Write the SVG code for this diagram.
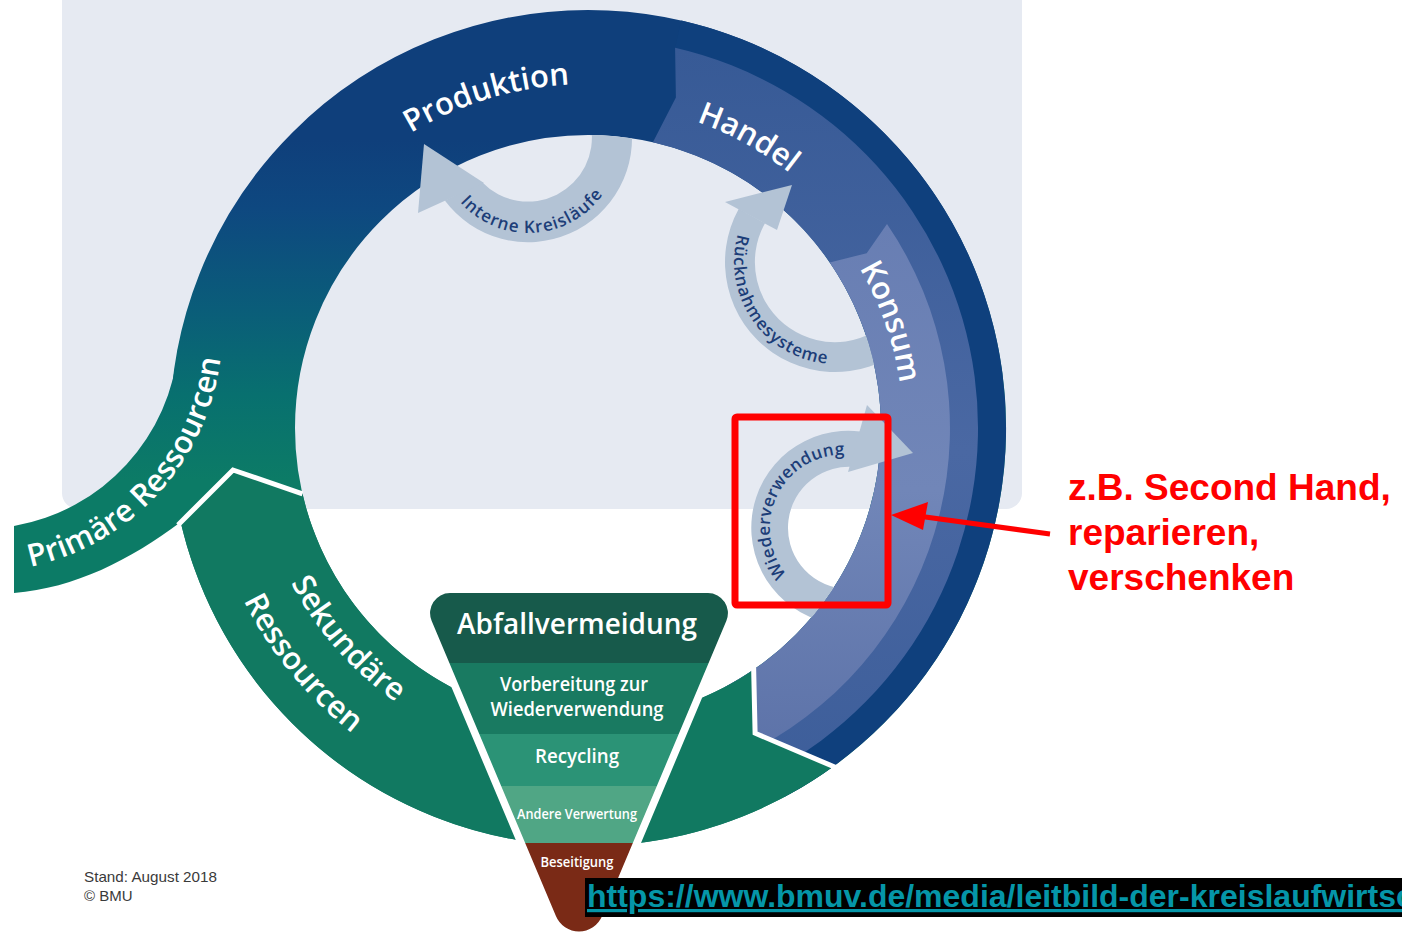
<svg xmlns="http://www.w3.org/2000/svg" width="1402" height="936" viewBox="0 0 1402 936">
<defs>
<style>
.lbl{font-family:"Open Sans","Noto Sans","DejaVu Sans",sans-serif;font-weight:600}
.ringlbl{fill:#ffffff;font-size:31px}
.innerlbl{fill:#1c3d78;font-size:17px}
.loop{fill:#b3c3d5}
.pyr{fill:#ffffff;text-anchor:middle}
.sep{fill:none;stroke:#ffffff;stroke-width:5;stroke-linejoin:miter}
.red{font-family:"Liberation Sans",Arial,sans-serif;font-weight:700;font-size:37px;fill:#ff0000}
.foot{font-family:"Liberation Sans",Arial,sans-serif;font-size:15px;fill:#3a3a3a}
</style>
<linearGradient id="gRing" gradientUnits="userSpaceOnUse" x1="0" y1="140" x2="0" y2="480">
<stop offset="0" stop-color="#0f3f7b"/>
<stop offset="0.2" stop-color="#0e4880"/>
<stop offset="0.5" stop-color="#0a5d79"/>
<stop offset="0.75" stop-color="#08706f"/>
<stop offset="1" stop-color="#0c7b66"/>
</linearGradient>
<linearGradient id="gHandel" gradientUnits="userSpaceOnUse" x1="0" y1="50" x2="0" y2="780">
<stop offset="0" stop-color="#375a96"/>
<stop offset="0.55" stop-color="#4a68a3"/>
<stop offset="1" stop-color="#3d5e9a"/>
</linearGradient>
<linearGradient id="gKonsum" gradientUnits="userSpaceOnUse" x1="0" y1="220" x2="0" y2="760">
<stop offset="0" stop-color="#687eb3"/>
<stop offset="0.5" stop-color="#7186b8"/>
<stop offset="1" stop-color="#5c72a8"/>
</linearGradient>
<clipPath id="hole"><circle cx="588" cy="428" r="293"/></clipPath>
<clipPath id="pyrClip"><path d="M450,593 L708,593 A20 20 0 0 1 726.4,620.7 L602.1,916.1 A25 25 0 0 1 555.9,916.1 L431.6,620.7 A20 20 0 0 1 450,593 Z"/></clipPath>
<path id="pProd" d="M410.8,133.1 A344 344 0 0 1 600,84.2"/>
<path id="pHandel" d="M696.5,121.7 A325 325 0 0 1 817.8,198.2"/>
<path id="pKonsum" d="M859.4,268.1 A315 315 0 0 1 903,428"/>
<path id="pSek" d="M290.9,582.7 A335 335 0 0 0 446.4,731.6"/>
<path id="pRes" d="M243.7,600.6 A386 386 0 0 0 424.9,777.8"/>
<path id="pPrim" d="M30.3,566.7 A242 242 0 0 0 221.1,351.1"/>
<path id="pInt" d="M460,202 A91 91 0 0 0 618,158"/>
<path id="pRueck" d="M737.9,234 A102 102 0 0 0 838.5,363.9"/>
<path id="pWieder" d="M786.6,574.5 A73 73 0 0 1 847.5,455"/>
</defs>

<g id="background">
<rect x="0" y="0" width="1402" height="936" fill="#ffffff"/>
<rect x="62" y="-30" width="960" height="539" rx="16" fill="#e6eaf2"/>
</g>

<g id="node-produktion">
<circle cx="588" cy="428" r="355.5" fill="none" stroke="url(#gRing)" stroke-width="125"/>
<path d="M681.3,20.5 A418 418 0 0 1 784.2,797.1 L770.6,771.5 A389 389 0 0 0 674.9,48.8 Z" fill="#0f407d"/>
<text class="lbl ringlbl"><textPath href="#pProd">Produktion</textPath></text>
</g>

<g id="node-handel">
<path d="M675.1,47.8 A390 390 0 0 1 771.1,772.3 L725.6,686.7 A293 293 0 0 0 652.9,142.3 L675.9,97.5 Z" fill="url(#gHandel)"/>
<text class="lbl ringlbl" font-size="30"><textPath href="#pHandel">Handel</textPath></text>
</g>

<g id="node-konsum">
<path d="M887,224 A362 362 0 0 1 758,747.6 L725.6,686.7 A293 293 0 0 0 829.8,262.5 L866.7,253.2 Z" fill="url(#gKonsum)"/>
<text class="lbl ringlbl" font-size="30"><textPath href="#pKonsum">Konsum</textPath></text>
</g>

<g id="node-primaere-ressourcen">
<path d="M14,593 L14,526 A199 199 0 0 0 178.2,347.3 L250,360 L290,470 L233,470 L180.7,522 C130,560 75,588 14,593 Z" fill="url(#gRing)"/>
<text class="lbl ringlbl" font-size="29"><textPath href="#pPrim">Primäre Ressourcen</textPath></text>
</g>

<g id="node-sekundaere-ressourcen">
<path d="M833.7,766.2 A418 418 0 0 1 180.7,522 L233,470 L302.5,493.9 A293 293 0 0 0 754,669.5 L755.1,733.2 Z" fill="#117961"/>
<polyline class="sep" points="753.5,662 755.1,733.2 837,768"/>
<polyline class="sep" points="178,525 233,470 302.5,493.9"/>
<text class="lbl ringlbl" font-size="27"><textPath href="#pSek">Sekundäre</textPath><textPath href="#pRes">Ressourcen</textPath></text>
</g>

<g id="connectors">
<g id="loop-interne-kreislaeufe">
<path class="loop" clip-path="url(#hole)" d="M630.4,119.9 A104 104 0 0 1 444.8,200.6 L481.9,182.1 A64 64 0 0 0 591,126.9 Z"/>
<polygon class="loop" points="484,183 424,144 418,213"/>
<text class="lbl innerlbl" font-size="18.5" letter-spacing="1"><textPath href="#pInt">Interne Kreisläufe</textPath></text>
</g>
<g id="loop-ruecknahmesysteme">
<path class="loop" clip-path="url(#hole)" d="M919.3,332.7 A110 110 0 0 1 738.8,208.7 L765,223.2 A80 80 0 0 0 896.3,313.4 Z"/>
<polygon class="loop" points="725,202 792,185 777,230"/>
<text class="lbl innerlbl" font-size="18" letter-spacing="0.9"><textPath href="#pRueck">Rücknahmesysteme</textPath></text>
</g>
<g id="loop-wiederverwendung">
<path class="loop" clip-path="url(#hole)" d="M836.5,624.1 A97 97 0 0 1 860.1,431.5 L856.4,467.3 A61 61 0 0 0 841.5,588.4 Z"/>
<polygon class="loop" points="867,405 913,453 848,472"/>
<text class="lbl innerlbl" font-size="17" letter-spacing="0.4"><textPath href="#pWieder">Wiederverwendung</textPath></text>
</g>
<g id="arrow-annotation">
<line x1="1050" y1="534" x2="918" y2="516" stroke="#ff0000" stroke-width="5"/>
<polygon points="891,515 928,502 923,530" fill="#ff0000"/>
</g>
</g>

<g id="node-abfallhierarchie">
<path d="M450,593 L708,593 A20 20 0 0 1 726.4,620.7 L602.1,916.1 A25 25 0 0 1 555.9,916.1 L431.6,620.7 A20 20 0 0 1 450,593 Z" fill="#ffffff" stroke="#ffffff" stroke-width="15" stroke-linejoin="round"/>
<g clip-path="url(#pyrClip)">
<rect x="400" y="580" width="360" height="83" fill="#175a4b"/>
<rect x="400" y="663" width="360" height="71" fill="#197a61"/>
<rect x="400" y="734" width="360" height="52" fill="#2b9376"/>
<rect x="400" y="786" width="360" height="57" fill="#50a685"/>
<rect x="400" y="843" width="360" height="110" fill="#7a2a16"/>
</g>
<text class="lbl pyr" x="577" y="634" font-size="29" textLength="240" lengthAdjust="spacingAndGlyphs">Abfallvermeidung</text>
<text class="lbl pyr" x="574" y="691" font-size="20" textLength="148" lengthAdjust="spacingAndGlyphs">Vorbereitung zur</text>
<text class="lbl pyr" x="577" y="716" font-size="20" textLength="173" lengthAdjust="spacingAndGlyphs">Wiederverwendung</text>
<text class="lbl pyr" x="577" y="763" font-size="20" textLength="84" lengthAdjust="spacingAndGlyphs">Recycling</text>
<text class="lbl pyr" x="577" y="819" font-size="14" textLength="120" lengthAdjust="spacingAndGlyphs">Andere Verwertung</text>
<text class="lbl pyr" x="577" y="867" font-size="13.5" textLength="73" lengthAdjust="spacingAndGlyphs">Beseitigung</text>
</g>

<g id="annotation">
<rect x="735" y="417" width="153" height="188" rx="2" fill="none" stroke="#ff0000" stroke-width="7"/>
<text class="red" x="1068" y="500">z.B. Second Hand,</text>
<text class="red" x="1068" y="545">reparieren,</text>
<text class="red" x="1068" y="590">verschenken</text>
</g>

<g id="footer">
<text class="foot" x="84" y="882" textLength="133" lengthAdjust="spacingAndGlyphs">Stand: August 2018</text>
<text class="foot" x="84" y="901">© BMU</text>
</g>

<g id="url">
<rect x="585" y="878" width="817" height="39" fill="#000000"/>
<text x="587" y="907" font-family="Liberation Sans, Arial, sans-serif" font-weight="700" font-size="32" fill="#0596a8" text-decoration="underline">https://www.bmuv.de/media/leitbild-der-kreislaufwirtsc</text>
</g>
</svg>
